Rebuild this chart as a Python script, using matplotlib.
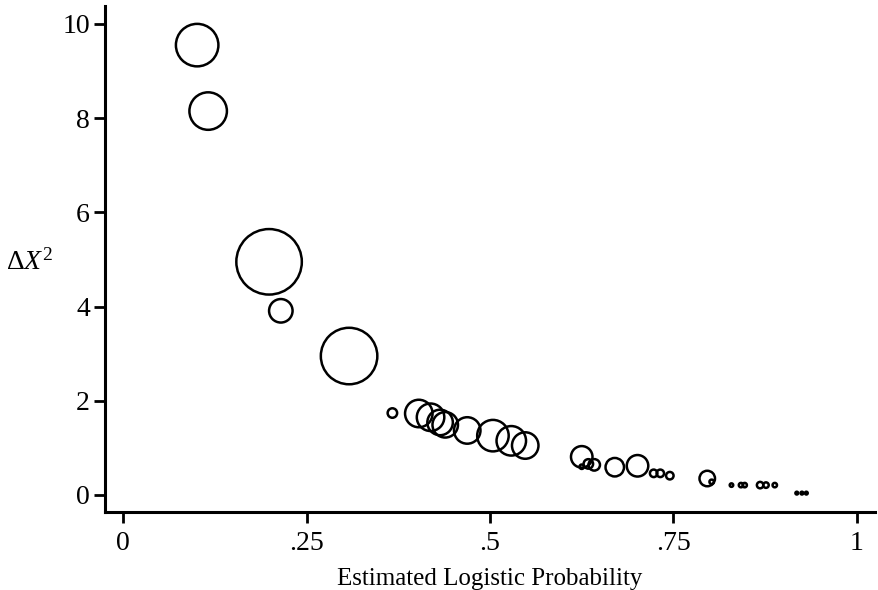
import matplotlib
matplotlib.use("Agg")
import matplotlib.pyplot as plt
import numpy as np

plt.rcParams['font.family'] = ['Liberation Serif', 'DejaVu Serif']
plt.rcParams['mathtext.fontset'] = 'custom'
plt.rcParams['mathtext.rm'] = 'Liberation Serif'
plt.rcParams['mathtext.it'] = 'Liberation Serif:italic'

# Estimated logistic probability
prob = [0.101, 0.116, 0.199, 0.215, 0.308, 0.367, 0.403, 0.419, 0.432, 0.439,
        0.469, 0.504, 0.529, 0.548, 0.625, 0.625, 0.634, 0.642, 0.670, 0.701,
        0.723, 0.732, 0.745, 0.796, 0.802, 0.829, 0.842, 0.847, 0.868, 0.876,
        0.888, 0.918, 0.925, 0.931]
# Change in Pearson chi-square
delta_x2 = [9.55, 8.15, 4.95, 3.91, 2.95, 1.74, 1.73, 1.65, 1.54, 1.49,
            1.37, 1.26, 1.15, 1.05, 0.81, 0.60, 0.66, 0.64, 0.59, 0.62,
            0.46, 0.46, 0.41, 0.35, 0.28, 0.21, 0.21, 0.21, 0.21, 0.21,
            0.21, 0.04, 0.04, 0.04]
# Bubble weight (influence, proportional to area)
weight = [506, 400, 1156, 169, 870, 36, 225, 225, 196, 196,
          210, 289, 256, 210, 144, 12, 36, 49, 110, 144,
          25, 25, 25, 81, 12, 9, 12, 12, 20, 16,
          12, 7, 7, 7]

xticks = [0, 0.25, 0.5, 0.75, 1]
xticklabels = ["0", ".25", ".5", ".75", "1"]
yticks = [0, 2, 4, 6, 8, 10]

fig = plt.figure(figsize=(8.79, 5.90), dpi=100)
ax = fig.add_axes([0.1195, 0.1322, 0.8759, 0.8576])

lw_pt = 1.8
w = np.array(weight, dtype=float)
diam_pt = (2 * np.sqrt(w) - 2.5) * 72 / 100
ax.scatter(prob, delta_x2, s=diam_pt ** 2, facecolors='none',
           edgecolors='black', linewidths=lw_pt, zorder=3, clip_on=False)

ax.set_xlim(-0.0245, 1.0245)
ax.set_ylim(-0.361, 10.38)
ax.set_xticks(xticks)
ax.set_xticklabels(xticklabels)
ax.set_yticks(yticks)

for s in ['top', 'right']:
    ax.spines[s].set_visible(False)
for s in ['left', 'bottom']:
    ax.spines[s].set_linewidth(2.2)
ax.tick_params(axis='both', direction='out', length=8, width=2.0,
               labelsize=20, colors='black')
ax.tick_params(axis='x', pad=6)
ax.tick_params(axis='y', pad=3)

ax.set_xlabel("Estimated Logistic Probability", fontsize=18, labelpad=8)
fig.text(30 / 879, 1 - 262 / 590, r"$\Delta X^{2}$", fontsize=20,
         ha='center', va='center')

fig.savefig("out.png", dpi=100)
